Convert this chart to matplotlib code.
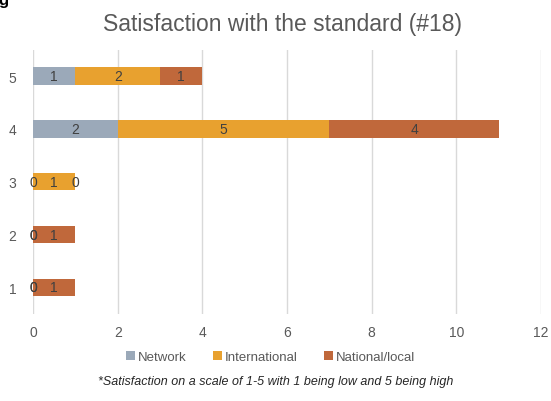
import matplotlib
matplotlib.use('Agg')
import matplotlib.pyplot as plt
import numpy as np

plt.rcParams['font.family'] = ['Liberation Sans', 'DejaVu Sans']

cats = ['1', '2', '3', '4', '5']
network = [0, 0, 0, 2, 1]
international = [0, 0, 1, 5, 2]
national = [1, 1, 0, 4, 1]
series = [('Network', network, '#9ba9b9'),
          ('International', international, '#e8a12f'),
          ('National/local', national, '#c0683b')]

fig = plt.figure(figsize=(5.51, 4.02), dpi=100)
ax = fig.add_axes([0.06, 0.217, 0.922, 0.657])

y = np.arange(1, 6)
left = np.zeros(5)
for name, vals, col in series:
    vals = np.array(vals, dtype=float)
    ax.barh(y, vals, left=left, height=0.33, color=col, label=name, zorder=3)
    for yi, l, v in zip(y, left, vals):
        ax.text(l + v / 2, yi, str(int(v)), ha='center', va='center',
                fontsize=10, color='#404040', zorder=4)
    left = left + vals

ax.set_xlim(0, 12)
ax.set_ylim(0.5, 5.5)
ax.set_xticks(range(0, 13, 2))
ax.set_yticks(y)
ax.set_yticklabels(cats)
ax.grid(axis='x', color='#d9d9d9', linewidth=1, zorder=0)
for s in ax.spines.values():
    s.set_visible(False)
ax.tick_params(length=0, labelsize=10, colors='#595959')
ax.tick_params(axis='y', pad=12)
ax.tick_params(axis='x', pad=8)

fig.text(0.512, 0.94, 'Satisfaction with the standard (#18)', ha='center',
         va='center', fontsize=16.5, color='#595959')
fig.text(-0.003, 1.0, 'g', ha='left', va='center', fontsize=12,
         fontweight='bold', color='#000000')
ax.legend(loc='upper center', bbox_to_anchor=(0.467, -0.095), ncol=3, frameon=False,
          fontsize=9.5, handlelength=0.7, handleheight=0.7, handletextpad=0.2,
          columnspacing=2.0, labelcolor='#595959')
fig.text(0.5, 0.05, '*Satisfaction on a scale of 1-5 with 1 being low and 5 being high',
         ha='center', va='center', fontsize=9, style='italic', color='#262626')

fig.savefig('out.png', dpi=100)
